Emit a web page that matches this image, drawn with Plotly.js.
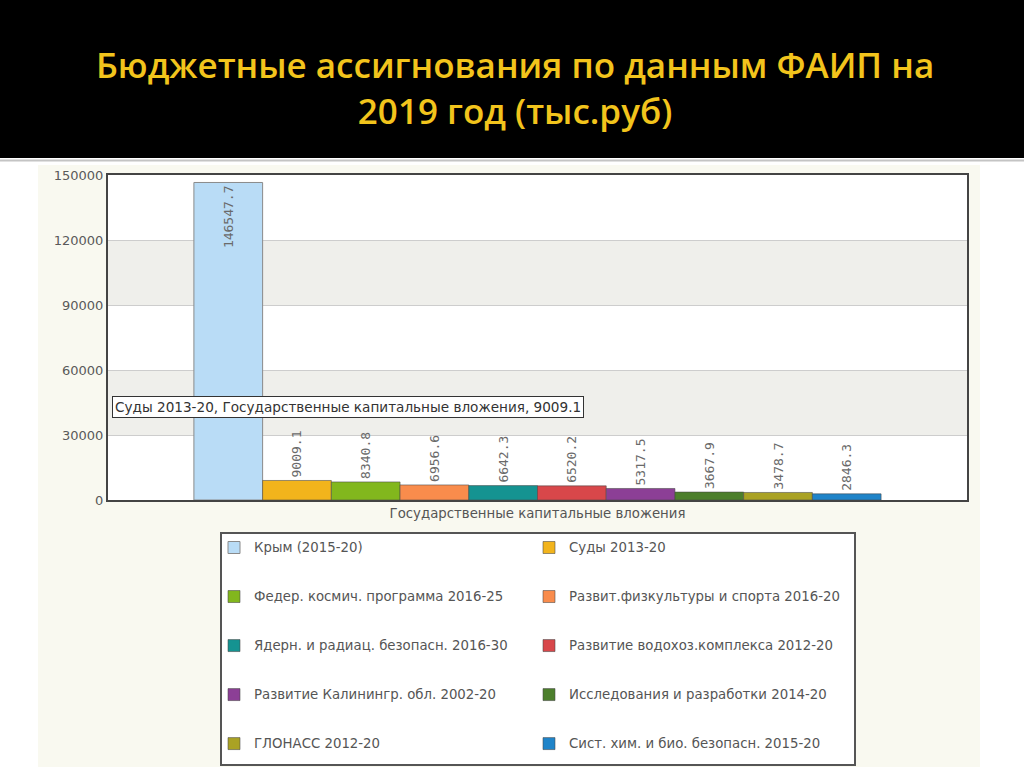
<!DOCTYPE html>
<html>
<head>
<meta charset="utf-8">
<script src="https://cdn.plot.ly/plotly-3.0.1.min.js"></script>
<style>
  html, body { margin: 0; padding: 0; background: #fff; }
  #chart { width: 1024px; height: 767px; }
</style>
</head>
<body>
<div id="chart"></div>
<script>
// --- data (тыс.руб, 2019) ---
const categories = ['Государственные капитальные вложения'];
const programs = [
    'Крым (2015-20)',
    'Суды 2013-20',
    'Федер. космич. программа 2016-25',
    'Развит.физкультуры и спорта 2016-20',
    'Ядерн. и радиац. безопасн. 2016-30',
    'Развитие водохоз.комплекса 2012-20',
    'Развитие Калинингр. обл. 2002-20',
    'Исследования и разработки 2014-20',
    'ГЛОНАСС 2012-20',
    'Сист. хим. и био. безопасн. 2015-20'
];
const values = [146547.7, 9009.1, 8340.8, 6956.6, 6642.3, 6520.2, 5317.5, 3667.9, 3478.7, 2846.3];
const yTicks = [0, 30000, 60000, 90000, 120000, 150000];
const hoveredIndex = 1; // the tooltip shown in the picture

const barColors = ['#b9dcf6', '#f2b41c', '#82b71d', '#f98c4c', '#159391',
                   '#d8474a', '#8c3f96', '#4c7f2c', '#aaa224', '#1f84c9'];

// plot area in pixels: x 108..967, y 175..500
const W = 1024, H = 767;
const M = { l: 108, r: W - 967, t: 175, b: H - 500 };
const px = x => (x - M.l) / (W - M.l - M.r);
const py = y => (H - M.b - y) / (H - M.t - M.b);

const sans = 'DejaVu Sans, Verdana, sans-serif';
const NB = '\u00a0';

const traces = programs.map((name, i) => ({
    type: 'bar',
    x: categories,
    y: [values[i]],
    // blank lines above/below widen the legend rows; label itself a bit larger
    name: NB + '<br><span style="font-size:13.3px">' + name + '</span><br>' + NB,
    text: [values[i].toFixed(1)],
    textposition: i === 0 ? 'inside' : 'outside',
    insidetextanchor: 'end',
    textangle: -90,
    textfont: { family: 'DejaVu Sans Mono, monospace', size: 13, color: '#6a6a6a' },
    cliponaxis: false,
    marker: {
        color: barColors[i],
        line: { color: i === 0 ? '#8a8a8a' : 'rgba(70,70,70,0.55)', width: 1 }
    },
    hoverinfo: 'skip'
}));

// alternating grey bands between gridlines
const bands = [];
for (let k = 1; k < yTicks.length - 1; k += 2) {
    bands.push({
        type: 'rect', layer: 'below', xref: 'paper', yref: 'y',
        x0: 0, x1: 1, y0: yTicks[k], y1: yTicks[k + 1],
        fillcolor: '#efefeb', line: { width: 0 }
    });
}

const shapes = [
    // black header band
    { type: 'rect', layer: 'below', xref: 'paper', yref: 'paper',
      x0: px(-10), x1: px(W + 10), y0: py(158), y1: py(-10),
      fillcolor: '#000', line: { width: 0 } },
    { type: 'line', layer: 'below', xref: 'paper', yref: 'paper',
      x0: px(-10), x1: px(W + 10), y0: py(160.5), y1: py(160.5),
      line: { color: '#c4c4c4', width: 2 } },
    // cream chart panel
    { type: 'rect', layer: 'below', xref: 'paper', yref: 'paper',
      x0: px(38), x1: px(980), y0: py(H + 10), y1: py(165),
      fillcolor: '#f9f9f0', line: { width: 0 } },
    // plot area background
    { type: 'rect', layer: 'below', xref: 'paper', yref: 'paper',
      x0: 0, x1: 1, y0: 0, y1: 1,
      fillcolor: '#fff', line: { width: 0 } },
    ...bands,
    // legend frame
    { type: 'rect', layer: 'below', xref: 'paper', yref: 'paper',
      x0: px(221), x1: px(855), y0: py(765), y1: py(533),
      fillcolor: '#fff', line: { color: '#555', width: 2 } }
];

const layout = {
    width: W, height: H,
    margin: { l: M.l, r: M.r, t: M.t, b: M.b, autoexpand: false },
    paper_bgcolor: '#fff',
    plot_bgcolor: 'rgba(0,0,0,0)',
    font: { family: sans, size: 13, color: '#555' },
    title: {
        text: 'Бюджетные ассигнования по данным ФАИП на<br>2019 год (тыс.руб)',
        font: { family: 'Open Sans, sans-serif', size: 35, color: '#f2c41c', weight: 600 },
        xref: 'container', x: 0.503,
        yref: 'container', y: 1 - 78 / H, yanchor: 'middle'
    },
    barmode: 'group',
    bargap: 0.2,
    bargroupgap: 0,
    showlegend: true,
    legend: {
        orientation: 'h',
        x: px(214), xanchor: 'left',
        y: py(518), yanchor: 'top',
        entrywidth: 270,
        bgcolor: 'rgba(0,0,0,0)',
        borderwidth: 0,
        traceorder: 'normal',
        font: { family: sans, size: 11.8, color: '#555' }
    },
    xaxis: {
        type: 'category',
        showline: true, mirror: true, linecolor: '#444', linewidth: 2,
        showgrid: false, ticks: '', fixedrange: true,
        tickfont: { family: sans, size: 13.3, color: '#555' }
    },
    yaxis: {
        range: [0, 150000],
        tickvals: yTicks,
        ticktext: yTicks.map(String),
        showline: true, mirror: true, linecolor: '#444', linewidth: 2,
        gridcolor: '#cdcdcd', gridwidth: 1, zeroline: false,
        ticks: '', fixedrange: true,
        tickfont: { family: sans, size: 13, color: '#5a5a5a' }
    },
    shapes: shapes,
    annotations: [{
        xref: 'paper', yref: 'y',
        x: px(112), y: 43000,
        xanchor: 'left', yanchor: 'middle',
        text: programs[hoveredIndex] + ', ' + categories[0] + ', ' + values[hoveredIndex],
        showarrow: false,
        bgcolor: '#fff', bordercolor: '#333', borderwidth: 1, borderpad: 2,
        font: { family: sans, size: 13.6, color: '#333' }
    }]
};

Plotly.newPlot('chart', traces, layout, { displayModeBar: false, staticPlot: true });
</script>
</body>
</html>
